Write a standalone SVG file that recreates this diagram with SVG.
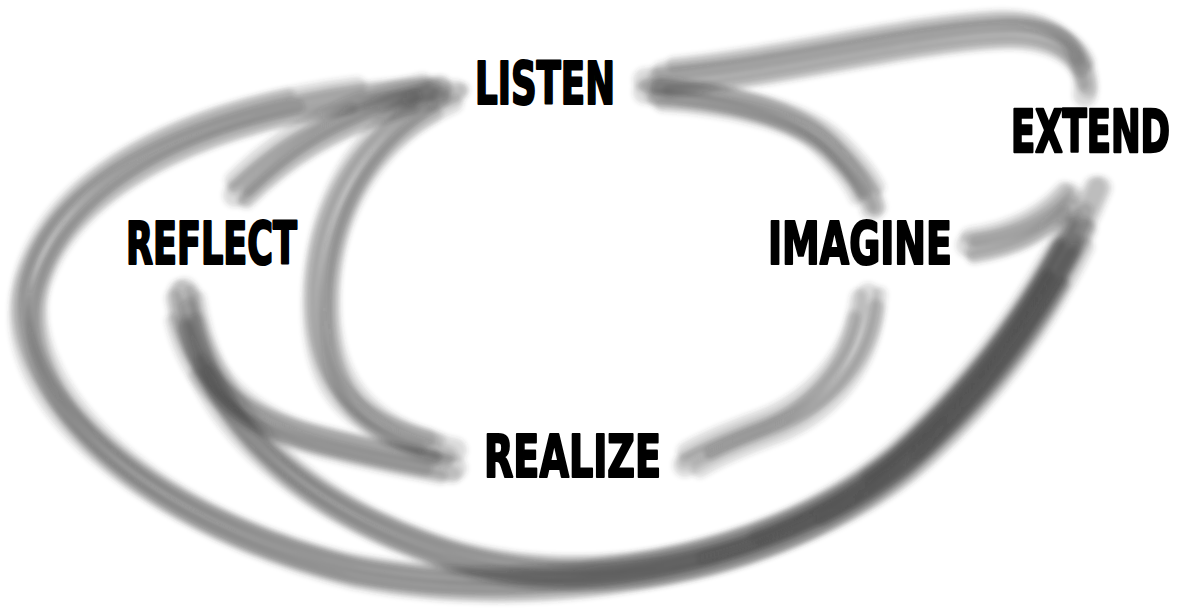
<svg xmlns="http://www.w3.org/2000/svg" xmlns:xlink="http://www.w3.org/1999/xlink" width="1182" height="609" viewBox="0 0 1182 609">
<style>
.lbl{font-family:"Liberation Sans Narrow","DejaVu Sans Condensed","Liberation Sans",sans-serif;font-weight:bold;font-size:58px;fill:#000;stroke:#000;stroke-width:2.2;stroke-linejoin:round}
.st{fill:none;stroke:#353535;stroke-linecap:round;stroke-opacity:0.18}
.a{stroke-width:24}
.b{stroke-width:18;stroke-dasharray:92 200;stroke-dashoffset:-4}
.c{stroke-width:18;stroke-dasharray:95 200;stroke-dashoffset:-2}
.d{stroke-width:14;stroke-dasharray:88 200;stroke-dashoffset:-7}
.e{stroke-width:14;stroke-dasharray:93 200;stroke-dashoffset:-1}
.f{stroke-width:14;stroke-dasharray:90 200;stroke-dashoffset:-5}
.g{stroke-width:12;stroke-dasharray:86 200;stroke-dashoffset:-8}
.h1{stroke-width:16;stroke-dasharray:44 200;stroke-dashoffset:-54}
.h2{stroke-width:16;stroke-dasharray:38 200;stroke-dashoffset:-59}
.h3{stroke-width:16;stroke-dasharray:33 200;stroke-dashoffset:-64}
.h4{stroke-width:14;stroke-dasharray:27 200;stroke-dashoffset:-69}
.h5{stroke-width:14;stroke-dasharray:22 200;stroke-dashoffset:-74}
</style>
<defs>
<filter id="soft" x="-10%" y="-10%" width="120%" height="120%"><feGaussianBlur stdDeviation="2.4"/></filter>
<path id="pA" pathLength="100" d="M 645 80 C 780 70, 900 35, 1000 30 C 1060 27, 1090 55, 1085 95"/>
<path id="pB" pathLength="100" d="M 645 92 C 730 95, 800 115, 830 145 C 855 170, 870 190, 872 208"/>
<path id="pC" pathLength="100" d="M 968 245 C 1010 240, 1045 225, 1070 195"/>
<path id="pD1" pathLength="100" d="M 440 88 C 250 95, 60 160, 30 290 C 10 400, 150 520, 350 570 C 550 610, 800 560, 920 450 C 1020 360, 1070 260, 1100 188"/>
<path id="pD2" pathLength="100" d="M 185 290 C 195 400, 280 500, 450 555 C 600 600, 780 560, 900 460 C 1000 370, 1060 270, 1095 188"/>
<path id="pE" pathLength="100" d="M 180 292 C 190 380, 240 420, 320 440 C 380 455, 420 462, 455 468"/>
<path id="pF" pathLength="100" d="M 455 92 C 380 120, 330 190, 322 280 C 315 380, 350 430, 455 450"/>
<path id="pG" pathLength="100" d="M 235 195 C 270 160, 320 115, 440 88"/>
<path id="pH" pathLength="100" d="M 868 295 C 865 360, 820 410, 760 430 C 720 445, 700 455, 685 465"/>
</defs>
<rect width="1182" height="609" fill="#fff"/>
<g id="connectors" filter="url(#soft)">
<g id="c-listen-extend"><use href="#pA" class="st a"/><use href="#pA" class="st b" transform="translate(-3,-8)"/><use href="#pA" class="st c" transform="translate(3,8)"/><use href="#pA" class="st d" transform="translate(-6,-13)"/><use href="#pA" class="st e" transform="translate(6,-4)"/><use href="#pA" class="st f" transform="translate(0,13)"/></g>
<g id="c-listen-imagine"><use href="#pB" class="st a"/><use href="#pB" class="st b" transform="translate(-7,-7)"/><use href="#pB" class="st c" transform="translate(7,7)"/><use href="#pB" class="st d" transform="translate(-12,3)"/><use href="#pB" class="st e" transform="translate(11,-5)"/><use href="#pB" class="st f" transform="translate(3,12)"/></g>
<g id="c-imagine-extend"><use href="#pC" class="st a"/><use href="#pC" class="st b" transform="translate(-3,-8)"/><use href="#pC" class="st c" transform="translate(3,8)"/><use href="#pC" class="st d" transform="translate(-2,13)"/><use href="#pC" class="st e" transform="translate(6,-4)"/></g>
<g id="c-listen-extend-outer"><use href="#pD1" class="st a"/><use href="#pD1" class="st b" transform="translate(-8,-8)"/><use href="#pD1" class="st c" transform="translate(8,8)"/><use href="#pD1" class="st d" transform="translate(-12,4)"/><use href="#pD1" class="st e" transform="translate(12,-4)"/><use href="#pD1" class="st f" transform="translate(3,12)"/><use href="#pD1" class="st g" transform="translate(-3,-12)"/></g>
<g id="c-reflect-extend"><use href="#pD2" class="st a"/><use href="#pD2" class="st b" transform="translate(-8,-8)"/><use href="#pD2" class="st c" transform="translate(8,8)"/><use href="#pD2" class="st d" transform="translate(-12,4)"/><use href="#pD2" class="st e" transform="translate(12,-4)"/><use href="#pD2" class="st f" transform="translate(3,12)"/><use href="#pD2" class="st g" transform="translate(-3,-12)"/><use href="#pD2" class="st h1"/><use href="#pD2" class="st h2" transform="translate(-6,-4)"/><use href="#pD2" class="st h3" transform="translate(6,4)"/><use href="#pD2" class="st h4" transform="translate(-2,-9)"/><use href="#pD2" class="st h5" transform="translate(2,9)"/></g>
<g id="c-reflect-realize"><use href="#pE" class="st a"/><use href="#pE" class="st b" transform="translate(-8,-8)"/><use href="#pE" class="st c" transform="translate(8,8)"/><use href="#pE" class="st d" transform="translate(-12,4)"/><use href="#pE" class="st e" transform="translate(12,-4)"/><use href="#pE" class="st f" transform="translate(3,12)"/></g>
<g id="c-realize-listen"><use href="#pF" class="st a"/><use href="#pF" class="st b" transform="translate(-8,-8)"/><use href="#pF" class="st c" transform="translate(8,8)"/><use href="#pF" class="st d" transform="translate(-12,4)"/><use href="#pF" class="st e" transform="translate(12,-4)"/><use href="#pF" class="st f" transform="translate(3,12)"/></g>
<g id="c-reflect-listen"><use href="#pG" class="st a"/><use href="#pG" class="st b" transform="translate(-8,-8)"/><use href="#pG" class="st c" transform="translate(8,8)"/><use href="#pG" class="st d" transform="translate(-12,4)"/><use href="#pG" class="st e" transform="translate(12,-4)"/><use href="#pG" class="st f" transform="translate(3,12)"/></g>
<g id="c-imagine-realize"><use href="#pH" class="st a"/><use href="#pH" class="st b" transform="translate(-8,-8)"/><use href="#pH" class="st c" transform="translate(8,8)"/><use href="#pH" class="st d" transform="translate(-12,4)"/><use href="#pH" class="st e" transform="translate(12,-4)"/></g>
</g>
<g id="node-listen"><text class="lbl" x="475" y="104" textLength="140" lengthAdjust="spacingAndGlyphs">LISTEN</text></g>
<g id="node-extend"><text class="lbl" transform="translate(1011,152) scale(1,1.43)" x="0" y="0" style="font-size:41.5px;stroke-width:1.8" textLength="159" lengthAdjust="spacingAndGlyphs">EXTEND</text></g>
<g id="node-reflect"><text class="lbl" x="126" y="264" textLength="171" lengthAdjust="spacingAndGlyphs">REFLECT</text></g>
<g id="node-imagine"><text class="lbl" x="768" y="264" textLength="184" lengthAdjust="spacingAndGlyphs">IMAGINE</text></g>
<g id="node-realize"><text class="lbl" x="484" y="477" textLength="177" lengthAdjust="spacingAndGlyphs">REALIZE</text></g>
</svg>
